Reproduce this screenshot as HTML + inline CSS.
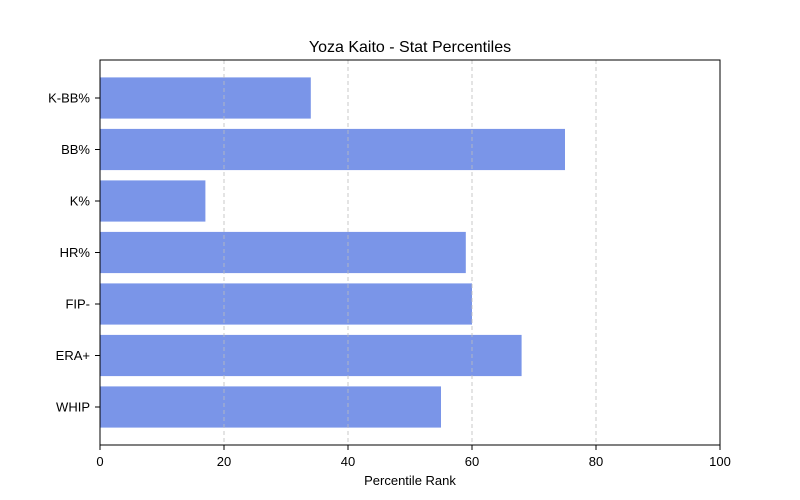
<!DOCTYPE html>
<html><head><meta charset="utf-8"><style>
html,body{margin:0;padding:0;background:#fff;}
svg{display:block;font-family:"Liberation Sans","DejaVu Sans",sans-serif;}
</style></head><body>
<svg id="chart" width="800" height="500">
<text x="410" y="52" text-anchor="middle" font-size="16" fill="#000">Yoza Kaito - Stat Percentiles</text>
<g id="bars"></g>
<g id="grid"></g>
<rect x="100" y="60" width="620" height="385" fill="none" stroke="#000" stroke-width="1"/>
<g id="xticks"></g>
<g id="yticks"></g>
<text x="410" y="485" text-anchor="middle" font-size="13" fill="#000">Percentile Rank</text>
</svg>
<script>
const categories = ["WHIP","ERA+","FIP-","HR%","K%","BB%","K-BB%"];
const values = [55,68,60,59,17,75,34];
const xTicks = [0,20,40,60,80,100];
const gridTicks = [20,40,60,80];
const NS = "http://www.w3.org/2000/svg";
const x = v => 100 + v * 6.2;
const step = 51.5;
const y = i => 407 - i * step;
function mk(tag, attrs, parent){const e=document.createElementNS(NS,tag);for(const k in attrs)e.setAttribute(k,attrs[k]);parent.appendChild(e);return e;}
const grid=document.getElementById('grid'),bars=document.getElementById('bars'),xt=document.getElementById('xticks'),yt=document.getElementById('yticks');
gridTicks.forEach(t=>{
  const l=mk('line',{x1:x(t),x2:x(t),y1:60,y2:445,stroke:'#bdbdbd','stroke-dasharray':'4,3','stroke-width':0.8},grid);
  
  
});
categories.forEach((c,i)=>{
  const h=step*0.8;
  const r=mk('rect',{x:x(0),y:y(i)-h/2,width:x(values[i])-x(0),height:h,fill:'#7a95e8'},bars);
  
  
  mk('line',{x1:95,x2:100,y1:y(i),y2:y(i),stroke:'#000'},yt);
  const t=mk('text',{x:90,y:y(i)+4.5,'text-anchor':'end','font-size':13,fill:'#000'},yt);
  t.textContent=c;
  
  
});
xTicks.forEach(v=>{
  mk('line',{x1:x(v),x2:x(v),y1:445,y2:450,stroke:'#000'},xt);
  const t=mk('text',{x:x(v),y:466,'text-anchor':'middle','font-size':13,fill:'#000'},xt);
  t.textContent=v;
  
  
});
</script>
</body></html>
